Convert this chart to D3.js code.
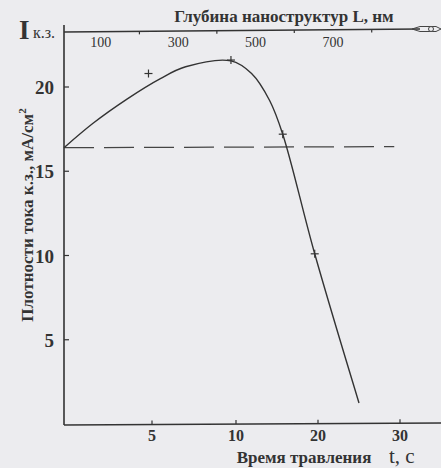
<!DOCTYPE html>
<html lang="ru">
<head>
    <meta charset="UTF-8">
    <title>Плотность тока к.з.</title>
    <script src="https://d3js.org/d3.v7.min.js"></script>
    <style>
        body { margin: 0; background: #ececef; }
        svg { display: block; background: #ececef; }
        text { font-family: "Liberation Serif", "DejaVu Serif", serif; fill: #333; }
        .axis-line { stroke: #333; stroke-width: 1.6; fill: none; }
        .curve { stroke: #333; stroke-width: 1.4; fill: none; }
        .dash { stroke: #444; stroke-width: 1.3; stroke-dasharray: 30 10; fill: none; }
        .mark { stroke: #333; stroke-width: 1.2; }
    </style>
</head>
<body>
<svg width="441" height="468"></svg>
<script>
    // curve: etching time t (s) vs current density (mA/cm2)
    const curveT = [0, 1.65, 3.6, 5.5, 7.0, 9.7, 11.9, 14.1, 15.7, 19.6, 25.0];
    const curveJ = [16.4, 17.85, 19.3, 20.5, 21.2, 21.55, 20.8, 19.2, 17.2, 10.1, 1.25];

    // measured points (crosses)
    const markT = [4.8, 9.7, 15.7, 19.6];
    const markJ = [20.8, 21.6, 17.2, 10.1];

    // reference level (dashed)
    const refLevel = 16.4;
    const refRange = [0, 29.3];

    const tTicks = [5, 10, 20, 30];
    const jTicks = [5, 10, 15, 20];
    const lLabels = [100, 300, 500, 700];
    const lMinor = [200, 400, 600, 800];

    const svg = d3.select("svg");

    // bottom axis is not uniform: 0..10 then 10..30 compressed
    const x = d3.scaleLinear()
        .domain([0, 5, 10, 20, 30])
        .range([64, 152, 236, 318, 400]);
    const y = d3.scaleLinear()
        .domain([0, 20])
        .range([424, 87]);
    const xL = d3.scaleLinear()
        .domain([0, 700])
        .range([62, 333]);

    const bottomY = 425, topY = 32, leftX = 64;

    // axes lines
    svg.append("line").attr("class", "axis-line")
        .attr("x1", leftX).attr("y1", 25).attr("x2", leftX).attr("y2", bottomY);
    svg.append("line").attr("class", "axis-line")
        .attr("x1", leftX).attr("y1", bottomY).attr("x2", 441).attr("y2", bottomY - 2);
    svg.append("line").attr("class", "axis-line")
        .attr("x1", leftX).attr("y1", topY).attr("x2", 420).attr("y2", topY - 3);

    // little arrow ornament at the end of the top axis
    svg.append("path")
        .attr("d", "M412,29 L420,26.5 L436,26.5 L441,29 L436,31.5 L420,31.5 Z")
        .attr("fill", "none").attr("stroke", "#444").attr("stroke-width", 1);
    svg.append("circle").attr("cx", 431).attr("cy", 29).attr("r", 2.5)
        .attr("fill", "#ececef").attr("stroke", "#444");

    // bottom ticks (inside)
    svg.selectAll(".tx").data(tTicks).enter().append("line")
        .attr("class", "mark")
        .attr("x1", d => x(d)).attr("x2", d => x(d))
        .attr("y1", d => bottomY - (x(d) - leftX) / 188).attr("y2", d => bottomY - 4 - (x(d) - leftX) / 188);
    svg.selectAll(".txl").data(tTicks).enter().append("text")
        .attr("x", d => x(d)).attr("y", 441)
        .attr("text-anchor", "middle")
        .attr("font-size", 16).attr("font-weight", "bold")
        .text(d => d);

    // left ticks (inside)
    svg.selectAll(".ty").data(jTicks).enter().append("line")
        .attr("class", "mark")
        .attr("x1", leftX).attr("x2", leftX + 5)
        .attr("y1", d => y(d)).attr("y2", d => y(d));
    svg.selectAll(".tyl").data(jTicks).enter().append("text")
        .attr("x", 54).attr("y", d => y(d) + 7)
        .attr("text-anchor", "end")
        .attr("font-size", 19).attr("font-weight", "bold")
        .text(d => d);

    // top axis: minor ticks at even hundreds, labels at odd hundreds
    svg.selectAll(".tl").data(lMinor).enter().append("line")
        .attr("class", "mark")
        .attr("x1", d => xL(d)).attr("x2", d => xL(d))
        .attr("y1", d => topY - (xL(d) - leftX) / 118).attr("y2", d => topY + 3 - (xL(d) - leftX) / 118);
    svg.selectAll(".tll").data(lLabels).enter().append("text")
        .attr("x", d => xL(d)).attr("y", 47)
        .attr("text-anchor", "middle")
        .attr("font-size", 14)
        .text(d => d);

    // dashed reference level
    svg.append("line").attr("class", "dash")
        .attr("x1", x(refRange[0])).attr("x2", x(refRange[1]))
        .attr("y1", y(refLevel)).attr("y2", y(refLevel) - 1);

    // curve
    const pts = curveT.map((t, i) => [x(t), y(curveJ[i])]);
    svg.append("path").attr("class", "curve")
        .attr("d", d3.line().curve(d3.curveCatmullRom.alpha(0.5))(pts));

    // crosses
    const marks = markT.map((t, i) => ({ t, j: markJ[i] }));
    const g = svg.selectAll(".m").data(marks).enter().append("g")
        .attr("transform", d => `translate(${x(d.t)},${y(d.j)})`);
    g.append("line").attr("class", "mark").attr("x1", -4).attr("x2", 4).attr("y1", 0).attr("y2", 0);
    g.append("line").attr("class", "mark").attr("x1", 0).attr("x2", 0).attr("y1", -4).attr("y2", 4);

    // titles
    svg.append("text").attr("x", 19).attr("y", 39)
        .attr("font-size", 27).attr("font-weight", "bold").text("I");
    svg.append("text").attr("x", 33).attr("y", 38)
        .attr("font-size", 16).text("к.з.");

    svg.append("text").attr("x", 284).attr("y", 22)
        .attr("text-anchor", "middle")
        .attr("font-size", 17).attr("font-weight", "bold")
        .text("Глубина наноструктур L, нм");

    const yl = svg.append("text")
        .attr("transform", "translate(33,215) rotate(-90)")
        .attr("text-anchor", "middle")
        .attr("font-size", 17).attr("font-weight", "bold");
    yl.append("tspan").text("Плотности тока к.з., мА/см");
    yl.append("tspan").attr("dy", -7).attr("font-size", 11).text("2");

    svg.append("text").attr("x", 304).attr("y", 463)
        .attr("text-anchor", "middle")
        .attr("font-size", 17).attr("font-weight", "bold")
        .text("Время травления");
    svg.append("text").attr("x", 389).attr("y", 463)
        .attr("font-size", 21)
        .text("t, c");
</script>
</body>
</html>
